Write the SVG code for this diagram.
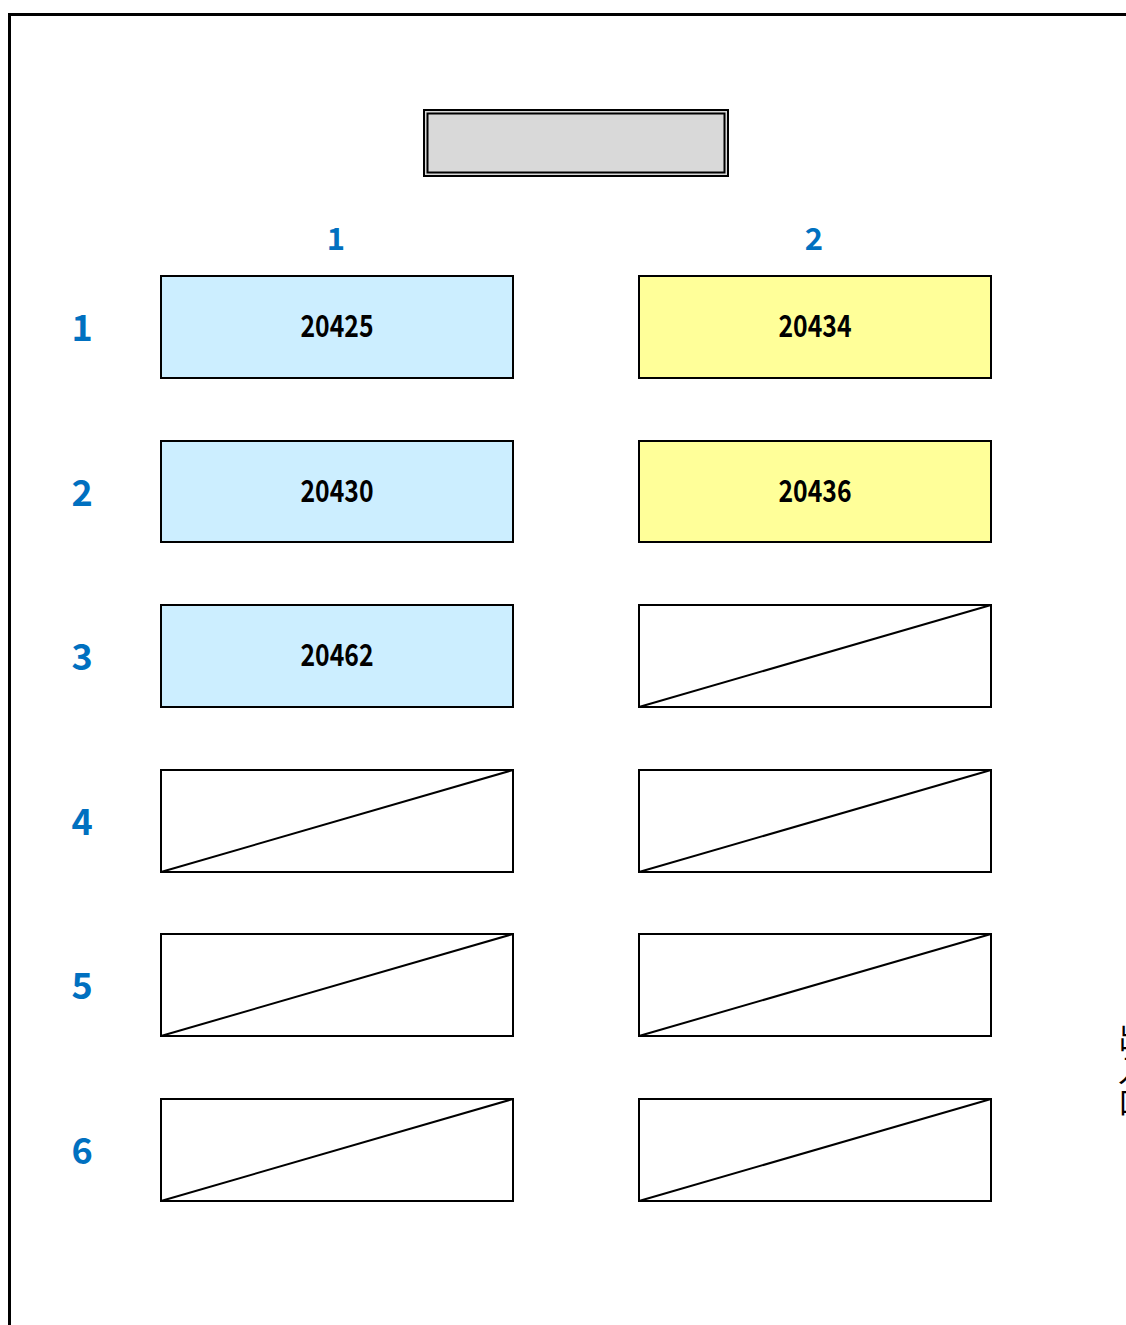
<svg xmlns="http://www.w3.org/2000/svg" width="1126" height="1325" viewBox="0 0 1126 1325">
<style>
.box{stroke:#000;stroke-width:2}
.blue{fill:#cceeff}
.yel{fill:#ffff99}
.empty{fill:#fff}
.diag{stroke:#000;stroke-width:2;fill:none}
.num{font-family:"Noto Sans CJK JP","Liberation Sans",sans-serif;font-weight:bold;font-size:31px;fill:#000;text-anchor:middle}
.lab{font-family:"Noto Sans CJK JP","Liberation Sans",sans-serif;font-weight:bold;fill:#0070c0;text-anchor:middle}
.row{font-size:36px}
.col{font-size:31px}
.vt{font-family:"Noto Sans CJK JP",sans-serif;font-size:30px;fill:#000;text-anchor:middle}
</style>
<rect width="1126" height="1325" fill="#fff"/>
<path d="M9.5,1325 V14.5 H1126" fill="none" stroke="#000" stroke-width="3"/>
<g id="title">
<rect x="424" y="110" width="304" height="66" fill="#d9d9d9" stroke="#000" stroke-width="2"/>
<rect x="427.5" y="113.5" width="297" height="59" fill="none" stroke="#000" stroke-width="2"/>
</g>
<g id="col-labels">
<text class="lab col" x="336" y="250">1</text>
<text class="lab col" x="814" y="250">2</text>
</g>
<g id="row-labels">
<text class="lab row" x="82" y="341">1</text>
<text class="lab row" x="82" y="506">2</text>
<text class="lab row" x="82" y="670">3</text>
<text class="lab row" x="82" y="835">4</text>
<text class="lab row" x="82" y="999">5</text>
<text class="lab row" x="82" y="1164">6</text>
</g>
<g id="n-1-1"><rect class="box blue" x="161" y="276" width="352" height="102"/><text class="num" x="337" y="337" textLength="73" lengthAdjust="spacingAndGlyphs">20425</text></g>
<g id="n-1-2"><rect class="box yel" x="639" y="276" width="352" height="102"/><text class="num" x="815" y="337" textLength="73" lengthAdjust="spacingAndGlyphs">20434</text></g>
<g id="n-2-1"><rect class="box blue" x="161" y="441" width="352" height="101"/><text class="num" x="337" y="502" textLength="73" lengthAdjust="spacingAndGlyphs">20430</text></g>
<g id="n-2-2"><rect class="box yel" x="639" y="441" width="352" height="101"/><text class="num" x="815" y="502" textLength="73" lengthAdjust="spacingAndGlyphs">20436</text></g>
<g id="n-3-1"><rect class="box blue" x="161" y="605" width="352" height="102"/><text class="num" x="337" y="666" textLength="73" lengthAdjust="spacingAndGlyphs">20462</text></g>
<g id="n-3-2"><rect class="box empty" x="639" y="605" width="352" height="102"/><line class="diag" x1="639" y1="707" x2="991" y2="605"/></g>
<g id="n-4-1"><rect class="box empty" x="161" y="770" width="352" height="102"/><line class="diag" x1="161" y1="872" x2="513" y2="770"/></g>
<g id="n-4-2"><rect class="box empty" x="639" y="770" width="352" height="102"/><line class="diag" x1="639" y1="872" x2="991" y2="770"/></g>
<g id="n-5-1"><rect class="box empty" x="161" y="934" width="352" height="102"/><line class="diag" x1="161" y1="1036" x2="513" y2="934"/></g>
<g id="n-5-2"><rect class="box empty" x="639" y="934" width="352" height="102"/><line class="diag" x1="639" y1="1036" x2="991" y2="934"/></g>
<g id="n-6-1"><rect class="box empty" x="161" y="1099" width="352" height="102"/><line class="diag" x1="161" y1="1201" x2="513" y2="1099"/></g>
<g id="n-6-2"><rect class="box empty" x="639" y="1099" width="352" height="102"/><line class="diag" x1="639" y1="1201" x2="991" y2="1099"/></g>
<g id="side-label">
<text class="vt" x="1133" y="1048">出</text>
<text class="vt" x="1133" y="1081">入</text>
<text class="vt" x="1133" y="1113">口</text>
</g>
<g id="connectors"></g>
</svg>
